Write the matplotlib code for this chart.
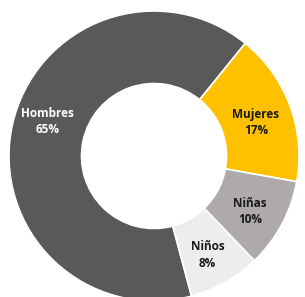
import matplotlib
matplotlib.use("Agg")
import matplotlib.pyplot as plt
import numpy as np

categories = ["Hombres", "Mujeres", "Niñas", "Niños"]
values = [65, 17, 10, 8]
colors = ["#595959", "#FFC000", "#AEAAAA", "#EDEDED"]
text_colors = ["white", "#1a1a1a", "#1a1a1a", "#1a1a1a"]

plt.rcParams["font.family"] = ["Open Sans", "DejaVu Sans"]

fig = plt.figure(figsize=(3.05, 2.97), dpi=100)
# donut centre at about (154, 156) px, outer radius 145 px
ax = fig.add_axes([9 / 305, -4 / 297, 290 / 305, 290 / 297])

wedges, _ = ax.pie(values, colors=colors, startangle=-75, counterclock=False,
                   radius=1.0,
                   wedgeprops=dict(width=0.5, edgecolor="white", linewidth=1.2))

total = sum(values)
for w, name, v, tc in zip(wedges, categories, values, text_colors):
    ang = np.deg2rad((w.theta1 + w.theta2) / 2)
    r = 0.75
    if name == "Hombres":
        # Excel puts this one a bit higher on the ring
        ang = ang - np.deg2rad(8)
        r = 0.78
    x, y = r * np.cos(ang), r * np.sin(ang) - 0.03
    ax.text(x, y, f"{name}\n{round(100 * v / total)}%", ha="center", va="center",
            color=tc, fontsize=8.5, fontweight="bold", linespacing=1.35)

ax.set_xlim(-1, 1)
ax.set_ylim(-1, 1)
ax.set_aspect("equal")
ax.axis("off")

fig.savefig("out.png", dpi=100)
